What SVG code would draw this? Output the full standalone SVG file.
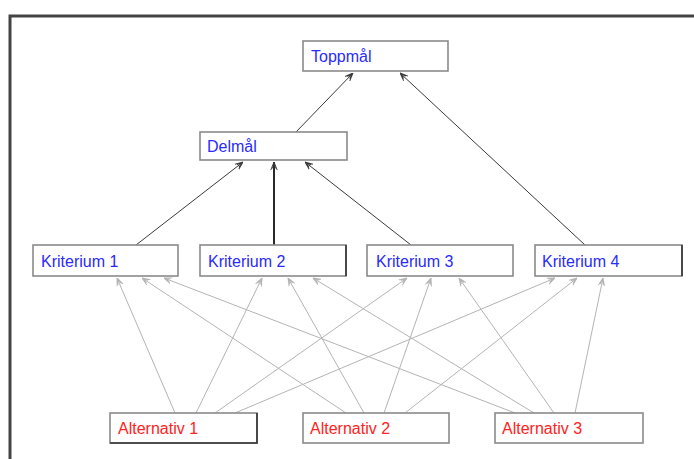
<svg xmlns="http://www.w3.org/2000/svg" width="694" height="459" viewBox="0 0 694 459">
  <style>
    .box { fill: #ffffff; stroke: #8a8a8a; stroke-width: 1.6; }
    .shade { fill: none; stroke: #333333; stroke-width: 1.6; }
    .lbl { font-family: "Liberation Sans", Arial, sans-serif; font-size: 16px; }
    .goal { fill: #2a2aff; }
    .alt { fill: #ff2222; }
    .dark { fill: none; stroke: #3a3a3a; stroke-width: 1; marker-end: url(#arrDark); }
    .bold { fill: none; stroke: #111111; stroke-width: 1.8; marker-end: url(#arrDark); }
    .light { fill: none; stroke: #b4b4b4; stroke-width: 1; marker-end: url(#arrLight); }
  </style>
  <defs>
    <marker id="arrDark" viewBox="0 0 10 10" refX="10" refY="5" markerWidth="8" markerHeight="8" orient="auto" markerUnits="userSpaceOnUse">
      <path d="M0,1 L10,5 L0,9 M2,3 L8,5 L2,7" fill="none" stroke="#3a3a3a" stroke-width="1.2"/>
    </marker>
    <marker id="arrLight" viewBox="0 0 10 10" refX="10" refY="5" markerWidth="8" markerHeight="8" orient="auto" markerUnits="userSpaceOnUse">
      <path d="M0,1 L10,5 L0,9 M2,3 L8,5 L2,7" fill="none" stroke="#b4b4b4" stroke-width="1.2"/>
    </marker>
  </defs>

  <rect x="0" y="0" width="694" height="459" fill="#ffffff"/>
  <!-- outer frame (left and top edges) -->
  <path d="M10,459 V16 H694" fill="none" stroke="#444444" stroke-width="3"/>

  <!-- connectors -->
  <g id="connectors">
    <line class="dark" x1="296" y1="132" x2="353" y2="73"/>
    <line class="dark" x1="585" y1="245" x2="400" y2="73"/>
    <line class="dark" x1="136" y1="245" x2="243" y2="162"/>
    <line class="bold" x1="274" y1="245" x2="274" y2="162"/>
    <line class="dark" x1="411" y1="245" x2="305" y2="162"/>

    <!-- Alternativ 1 -->
    <line class="light" x1="175" y1="413" x2="117" y2="278"/>
    <line class="light" x1="196" y1="413" x2="262" y2="278"/>
    <line class="light" x1="215" y1="413" x2="407" y2="278"/>
    <line class="light" x1="235" y1="413" x2="555" y2="278"/>
    <!-- Alternativ 2 -->
    <line class="light" x1="346" y1="413" x2="142" y2="278"/>
    <line class="light" x1="364" y1="413" x2="288" y2="278"/>
    <line class="light" x1="384" y1="413" x2="431" y2="278"/>
    <line class="light" x1="405" y1="413" x2="577" y2="278"/>
    <!-- Alternativ 3 -->
    <line class="light" x1="515" y1="413" x2="164" y2="278"/>
    <line class="light" x1="534" y1="413" x2="313" y2="278"/>
    <line class="light" x1="554" y1="413" x2="459" y2="278"/>
    <line class="light" x1="575" y1="413" x2="603" y2="278"/>
  </g>

  <g id="toppmal">
    <rect class="box" x="303" y="41" width="145" height="30"/>
    <text class="lbl goal" x="311" y="62">Toppmål</text>
  </g>
  <g id="delmal">
    <rect class="box" x="200" y="132" width="147" height="28"/>
    <text class="lbl goal" x="207" y="152">Delmål</text>
  </g>
  <g id="kriterium1">
    <rect class="box" x="33" y="245" width="145" height="31"/>
    <text class="lbl goal" x="41" y="267">Kriterium 1</text>
  </g>
  <g id="kriterium2">
    <rect class="box" x="200" y="245" width="146" height="31"/>
    <line class="shade" x1="346" y1="245" x2="346" y2="276"/>
    <text class="lbl goal" x="208" y="267">Kriterium 2</text>
  </g>
  <g id="kriterium3">
    <rect class="box" x="367" y="245" width="146" height="31"/>
    <text class="lbl goal" x="376" y="267">Kriterium 3</text>
  </g>
  <g id="kriterium4">
    <rect class="box" x="535" y="245" width="147" height="31"/>
    <line class="shade" x1="682" y1="245" x2="682" y2="276"/>
    <text class="lbl goal" x="542" y="267">Kriterium 4</text>
  </g>
  <g id="alternativ1">
    <rect class="box" x="110" y="413" width="147" height="30"/>
    <path class="shade" d="M257,413 V443 H110"/>
    <text class="lbl alt" x="118" y="434">Alternativ 1</text>
  </g>
  <g id="alternativ2">
    <rect class="box" x="303" y="413" width="146" height="30"/>
    <text class="lbl alt" x="310" y="434">Alternativ 2</text>
  </g>
  <g id="alternativ3">
    <rect class="box" x="495" y="413" width="148" height="30"/>
    <text class="lbl alt" x="502" y="434">Alternativ 3</text>
  </g>
</svg>
